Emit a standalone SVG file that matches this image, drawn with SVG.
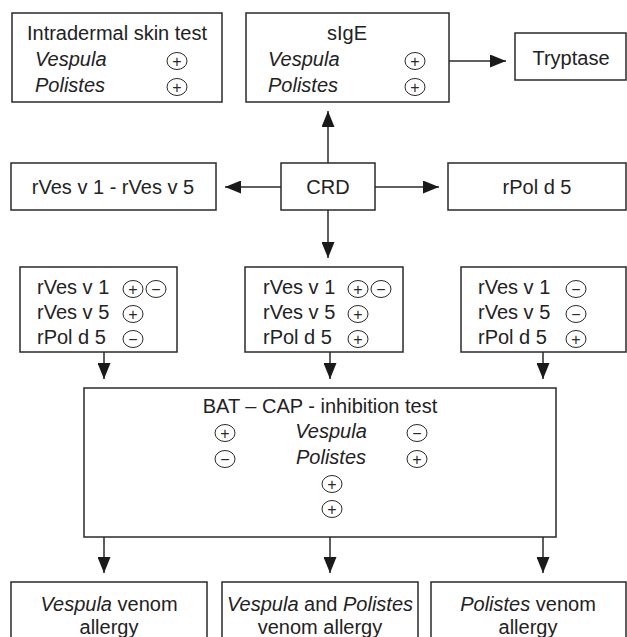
<svg xmlns="http://www.w3.org/2000/svg" width="627" height="637" viewBox="0 0 627 637">
<defs>
<style>
.box{fill:#fff;stroke:#2a2a2a;stroke-width:1.5}
.t{font-family:"Liberation Sans",Arial,sans-serif;font-size:20px;fill:#222}
.i{font-style:italic}
.m{text-anchor:middle}
.c{fill:none;stroke:#2a2a2a;stroke-width:1}
.s{font-family:"Liberation Sans",Arial,sans-serif;font-size:16px;fill:#2a2a2a;text-anchor:middle}
.ln{stroke:#2a2a2a;stroke-width:1.5;fill:none}
</style>
<marker id="ah" markerWidth="16" markerHeight="13" refX="16" refY="6.5" orient="auto" markerUnits="userSpaceOnUse">
<path d="M0,0 L16,6.5 L0,13 Z" fill="#1a1a1a"/>
</marker>
</defs>
<rect width="627" height="637" fill="#fff"/>

<g id="connectors">
<line class="ln" x1="449" y1="61" x2="506" y2="61" marker-end="url(#ah)"/>
<line class="ln" x1="328" y1="163" x2="328" y2="111" marker-end="url(#ah)"/>
<line class="ln" x1="281" y1="187" x2="225" y2="187" marker-end="url(#ah)"/>
<line class="ln" x1="375" y1="187" x2="439" y2="187" marker-end="url(#ah)"/>
<line class="ln" x1="328" y1="210" x2="328" y2="258" marker-end="url(#ah)"/>
<line class="ln" x1="104" y1="352" x2="104" y2="379" marker-end="url(#ah)"/>
<line class="ln" x1="330" y1="352" x2="330" y2="379" marker-end="url(#ah)"/>
<line class="ln" x1="543" y1="352" x2="543" y2="379" marker-end="url(#ah)"/>
<line class="ln" x1="104" y1="537" x2="104" y2="573" marker-end="url(#ah)"/>
<line class="ln" x1="330" y1="537" x2="330" y2="573" marker-end="url(#ah)"/>
<line class="ln" x1="543" y1="537" x2="543" y2="573" marker-end="url(#ah)"/>
</g>

<g id="intradermal">
<rect class="box" x="12" y="13" width="210" height="89"/>
<text class="t m" x="117" y="40">Intradermal skin test</text>
<text class="t i" x="35" y="66">Vespula</text>
<text class="t i" x="35" y="92">Polistes</text>
<ellipse class="c" cx="177" cy="61" rx="10" ry="8.5"/><text class="s" x="177" y="66.5">+</text>
<ellipse class="c" cx="177" cy="87" rx="10" ry="8.5"/><text class="s" x="177" y="92.5">+</text>
</g>

<g id="sige">
<rect class="box" x="246" y="13" width="203" height="89"/>
<text class="t m" x="347" y="40">sIgE</text>
<text class="t i" x="268" y="66">Vespula</text>
<text class="t i" x="268" y="92">Polistes</text>
<ellipse class="c" cx="415" cy="61" rx="10" ry="8.5"/><text class="s" x="415" y="66.5">+</text>
<ellipse class="c" cx="415" cy="87" rx="10" ry="8.5"/><text class="s" x="415" y="92.5">+</text>
</g>

<g id="tryptase">
<rect class="box" x="515" y="33" width="111" height="47"/>
<text class="t m" x="571" y="65">Tryptase</text>
</g>

<g id="rves15">
<rect class="box" x="11" y="163" width="205" height="47"/>
<text class="t m" x="113" y="194">rVes v 1 - rVes v 5</text>
</g>

<g id="crd">
<rect class="box" x="281" y="163" width="94" height="47"/>
<text class="t m" x="328" y="194">CRD</text>
</g>

<g id="rpold5">
<rect class="box" x="448" y="163" width="178" height="47"/>
<text class="t m" x="537" y="194">rPol d 5</text>
</g>

<g id="left-result">
<rect class="box" x="20" y="267" width="157" height="85"/>
<text class="t" x="37" y="294">rVes v 1</text>
<text class="t" x="37" y="319">rVes v 5</text>
<text class="t" x="37" y="344">rPol d 5</text>
<ellipse class="c" cx="133" cy="289" rx="10" ry="8.5"/><text class="s" x="133" y="294.5">+</text>
<ellipse class="c" cx="156" cy="289" rx="10" ry="8.5"/><text class="s" x="156" y="294.5">−</text>
<ellipse class="c" cx="133" cy="314" rx="10" ry="8.5"/><text class="s" x="133" y="319.5">+</text>
<ellipse class="c" cx="133" cy="339" rx="10" ry="8.5"/><text class="s" x="133" y="344.5">−</text>
</g>

<g id="middle-result">
<rect class="box" x="245" y="267" width="158" height="85"/>
<text class="t" x="263" y="294">rVes v 1</text>
<text class="t" x="263" y="319">rVes v 5</text>
<text class="t" x="263" y="344">rPol d 5</text>
<ellipse class="c" cx="358" cy="289" rx="10" ry="8.5"/><text class="s" x="358" y="294.5">+</text>
<ellipse class="c" cx="381" cy="289" rx="10" ry="8.5"/><text class="s" x="381" y="294.5">−</text>
<ellipse class="c" cx="358" cy="314" rx="10" ry="8.5"/><text class="s" x="358" y="319.5">+</text>
<ellipse class="c" cx="358" cy="339" rx="10" ry="8.5"/><text class="s" x="358" y="344.5">+</text>
</g>

<g id="right-result">
<rect class="box" x="461" y="267" width="165" height="85"/>
<text class="t" x="478" y="294">rVes v 1</text>
<text class="t" x="478" y="319">rVes v 5</text>
<text class="t" x="478" y="344">rPol d 5</text>
<ellipse class="c" cx="576" cy="289" rx="10" ry="8.5"/><text class="s" x="576" y="294.5">−</text>
<ellipse class="c" cx="576" cy="314" rx="10" ry="8.5"/><text class="s" x="576" y="319.5">−</text>
<ellipse class="c" cx="576" cy="339" rx="10" ry="8.5"/><text class="s" x="576" y="344.5">+</text>
</g>

<g id="bat">
<rect class="box" x="84" y="388" width="472" height="149"/>
<text class="t m" x="320" y="413">BAT – CAP - inhibition test</text>
<text class="t i m" x="331" y="438">Vespula</text>
<text class="t i m" x="331" y="464">Polistes</text>
<ellipse class="c" cx="225" cy="433" rx="10" ry="8.5"/><text class="s" x="225" y="438.5">+</text>
<ellipse class="c" cx="417" cy="433" rx="10" ry="8.5"/><text class="s" x="417" y="438.5">−</text>
<ellipse class="c" cx="225" cy="459" rx="10" ry="8.5"/><text class="s" x="225" y="464.5">−</text>
<ellipse class="c" cx="417" cy="459" rx="10" ry="8.5"/><text class="s" x="417" y="464.5">+</text>
<ellipse class="c" cx="332" cy="484" rx="10" ry="8.5"/><text class="s" x="332" y="489.5">+</text>
<ellipse class="c" cx="332" cy="509" rx="10" ry="8.5"/><text class="s" x="332" y="514.5">+</text>
</g>

<g id="vespula-allergy">
<rect class="box" x="11" y="582" width="196" height="70"/>
<text class="t m" x="109" y="611"><tspan class="i">Vespula</tspan> venom</text>
<text class="t m" x="109" y="634">allergy</text>
</g>

<g id="both-allergy">
<rect class="box" x="222" y="582" width="196" height="70"/>
<text class="t m" x="320" y="611"><tspan class="i">Vespula</tspan> and <tspan class="i">Polistes</tspan></text>
<text class="t m" x="320" y="634">venom allergy</text>
</g>

<g id="polistes-allergy">
<rect class="box" x="431" y="582" width="195" height="70"/>
<text class="t m" x="528" y="611"><tspan class="i">Polistes</tspan> venom</text>
<text class="t m" x="528" y="634">allergy</text>
</g>
</svg>
